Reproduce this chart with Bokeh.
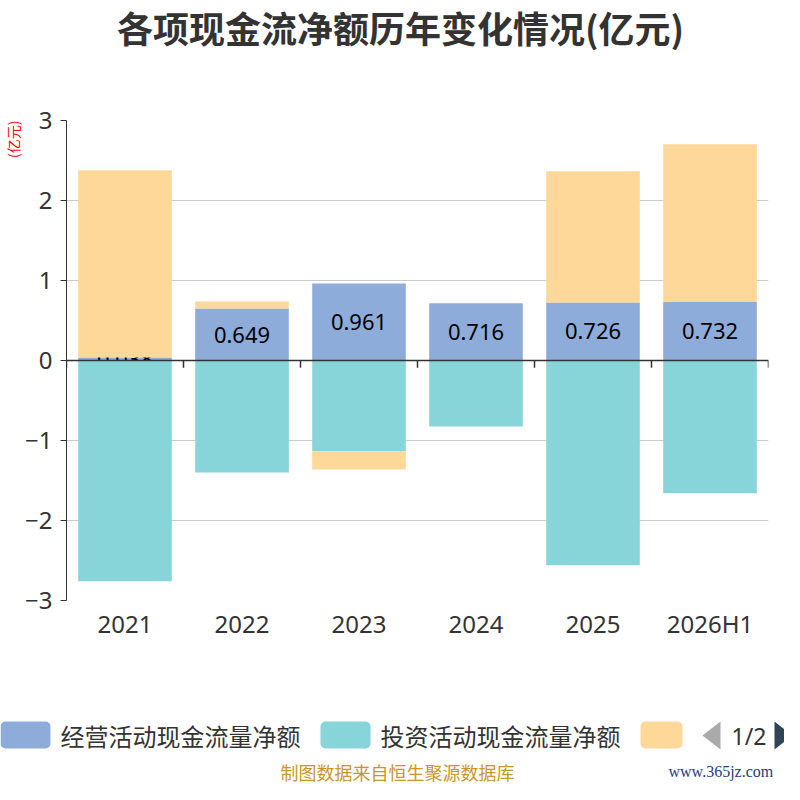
from bokeh.plotting import figure
from bokeh.layouts import column
from bokeh.models import Range1d, FixedTicker, Span, Title
from bokeh.core.properties import value
from bokeh.embed import file_html
from bokeh.resources import INLINE

title = "各项现金流净额历年变化情况(亿元)"
unit = "(亿元)"
categories = ["2021", "2022", "2023", "2024", "2025", "2026H1"]
operating = [0.038, 0.649, 0.961, 0.716, 0.726, 0.732]
investing = [-2.76, -1.40, -1.134, -0.825, -2.56, -1.66]
financing = [2.34, 0.09, -0.23, 0.0, 1.64, 1.97]
series_names = ["经营活动现金流量净额", "投资活动现金流量净额", "筹资活动现金流量净额"]
colors = ["#8eacda", "#87d5d8", "#fed898"]
y_ticks = [-3, -2, -1, 0, 1, 2, 3]
source_note = "制图数据来自恒生聚源数据库"
site = "www.365jz.com"

CJK = "Noto Sans CJK SC"

# stacked like echarts: positives upward, negatives downward
fin_bottom = [o if f >= 0 else i for o, i, f in zip(operating, investing, financing)]
fin_top = [o + f if f >= 0 else i + f for o, i, f in zip(operating, investing, financing)]

# ---- header with title
hdr = figure(width=784, height=60, x_range=Range1d(0, 784), y_range=Range1d(60, 0),
             toolbar_location=None, output_backend="svg", min_border=0,
             x_axis_location=None, y_axis_location=None, outline_line_color=None)
hdr.frame_align = False
hdr.grid.visible = False
hdr.text(x=[400], y=[26], text=[title], text_align="center", text_baseline="middle",
         text_font=value(CJK), text_font_size="36px", text_font_style="bold", text_color="#333333")

# ---- main chart
p = figure(width=784, height=590, x_range=categories, y_range=Range1d(-3, 3),
           toolbar_location=None, output_backend="svg",
           min_border_left=65, min_border_right=16, min_border_top=60, min_border_bottom=50)
p.frame_align = False
p.outline_line_color = None
p.xgrid.visible = False
p.ygrid.grid_line_color = "#cccccc"
p.ygrid.grid_line_width = 1.2
p.yaxis.ticker = FixedTicker(ticks=y_ticks)
p.yaxis.axis_line_color = "#333333"
p.yaxis.major_tick_line_color = "#333333"
p.yaxis.major_tick_out = 6
p.yaxis.major_tick_in = 0
p.yaxis.minor_tick_line_color = None
p.yaxis.major_label_text_font = "Noto Sans"
p.yaxis.major_label_text_font_size = "24px"
p.yaxis.major_label_text_color = "#333333"
p.yaxis.major_label_standoff = 8

p.xaxis.axis_line_color = None
p.xaxis.major_tick_line_color = None
p.xaxis.minor_tick_line_color = None
p.xaxis.major_label_text_font = "Noto Sans"
p.xaxis.major_label_text_font_size = "24px"
p.xaxis.major_label_text_color = "#333333"
p.xaxis.major_label_standoff = 0

p.add_layout(Title(text=unit, align="right", text_color="red", text_font=CJK,
                   text_font_size="14px", text_font_style="normal", standoff=0), "left")

p.vbar(x=categories, bottom=0, top=operating, width=0.8, fill_color=colors[0], line_color=None)
p.text(x=categories, y=[o / 2 for o in operating], text=[f"{o:.3f}" for o in operating],
       text_align="center", text_baseline="middle", text_font=value("Noto Sans"),
       text_font_size="22px", text_color="#000000")
p.vbar(x=categories, bottom=investing, top=0, width=0.8, fill_color=colors[1], line_color=None)
p.vbar(x=categories, bottom=fin_bottom, top=fin_top, width=0.8, fill_color=colors[2], line_color=None)

# zero axis line with ticks between categories
p.add_layout(Span(location=0, dimension="width", line_color="#333333", line_width=1.5))
edges = list(range(len(categories) + 1))
p.segment(x0=edges, y0=[0] * len(edges), x1=edges, y1=[-0.09] * len(edges),
          line_color="#333333", line_width=1.5)

# ---- legend + footer
leg = figure(width=784, height=134, x_range=Range1d(0, 784), y_range=Range1d(134, 0),
             toolbar_location=None, output_backend="svg", min_border=0,
             x_axis_location=None, y_axis_location=None, outline_line_color=None)
leg.frame_align = False
leg.grid.visible = False
sw_left = [0, 320, 640]
sw_right = [50, 370, 682]
leg.quad(left=sw_left, right=sw_right, top=[71] * 3, bottom=[98] * 3,
         fill_color=colors, line_color=None, border_radius=5)
leg.text(x=[60, 380], y=[85, 85], text=series_names[:2], text_align="left", text_baseline="middle",
         text_font=value(CJK), text_font_size="24px", text_color="#333333")
# pager
leg.patch(x=[702, 720, 720], y=[85, 71, 99], fill_color="#aaaaaa", line_color=None)
leg.text(x=[731], y=[85], text=["1/2"], text_align="left", text_baseline="middle",
         text_font=value("Noto Sans"), text_font_size="23px", text_color="#333333")
leg.patch(x=[774, 792, 774], y=[71, 85, 99], fill_color="#2f4554", line_color=None)

leg.text(x=[397], y=[121], text=[source_note], text_align="center", text_baseline="middle",
         text_font=value(CJK), text_font_size="18px", text_color="#c9952c")
leg.text(x=[668], y=[121], text=[site], text_align="left", text_baseline="middle",
         text_font=value("Liberation Serif"), text_font_size="16px", text_color="#1e3d7b")

layout = column(hdr, p, leg)
open("out.html", "w").write(file_html(layout, INLINE))
